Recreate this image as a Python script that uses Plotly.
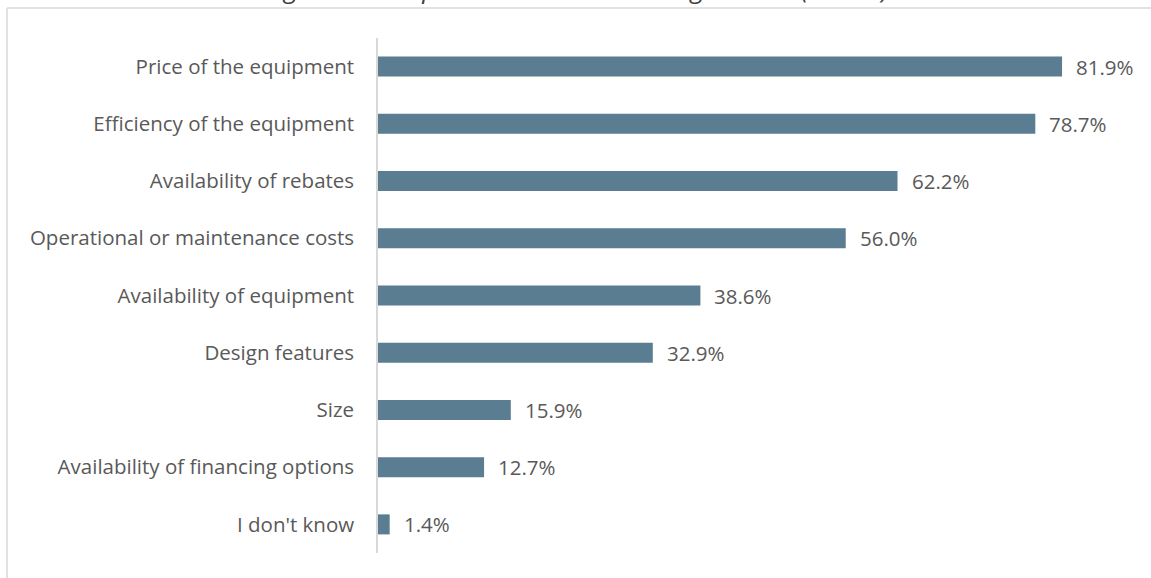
import plotly.graph_objects as go

# Survey results: share of respondents citing each factor
factors = [
    "Price of the equipment",
    "Efficiency of the equipment",
    "Availability of rebates",
    "Operational or maintenance costs",
    "Availability of equipment",
    "Design features",
    "Size",
    "Availability of financing options",
    "I don't know",
]
shares = [81.9, 78.7, 62.2, 56.0, 38.6, 32.9, 15.9, 12.7, 1.4]
title_text = "Figure 5-3: Important Decision-Making Factors (n=438)"

W, H = 1151, 578
ML, MR, MT, MB = 378, 38, 38, 25
pw, ph = W - ML - MR, H - MT - MB

def px_x(p):
    return (p - ML) / pw

def px_y(p):
    return 1 - (p - MT) / ph

bar_color = "#5b7d91"
text_color = "#595959"
font_family = "Open Sans, Liberation Sans, sans-serif"
fs = 20.5

fig = go.Figure(
    go.Bar(
        x=shares,
        y=factors,
        orientation="h",
        marker=dict(color=bar_color, line=dict(width=0)),
        width=0.35,
        hoverinfo="skip",
    )
)

annotations = [
    dict(
        x=v, y=f, xref="x", yref="y", text=f"{v:.1f}%",
        showarrow=False, xanchor="left", xshift=12,
        font=dict(size=fs, color=text_color, family=font_family),
    )
    for f, v in zip(factors, shares)
]
annotations.append(
    dict(
        x=px_x(577), y=px_y(8), xref="paper", yref="paper",
        text=f"<i>{title_text}</i>", showarrow=False,
        xanchor="center", yanchor="bottom",
        font=dict(size=26, color="#404040", family=font_family),
    )
)

frame = "#d9d9d9"
shapes = [
    dict(type="line", xref="paper", yref="paper",
         x0=px_x(7), x1=px_x(W + 5), y0=px_y(8), y1=px_y(8),
         line=dict(color=frame, width=1.5)),
    dict(type="line", xref="paper", yref="paper",
         x0=px_x(7), x1=px_x(7), y0=px_y(8), y1=px_y(H + 5),
         line=dict(color=frame, width=1.5)),
]

fig.update_layout(
    width=W, height=H,
    margin=dict(l=ML, r=MR, t=MT, b=MB),
    paper_bgcolor="white", plot_bgcolor="white",
    showlegend=False,
    annotations=annotations,
    shapes=shapes,
    font=dict(family=font_family, size=fs, color=text_color),
    xaxis=dict(range=[0, 88], showgrid=False, zeroline=False,
               showticklabels=False, showline=False, fixedrange=True),
    yaxis=dict(categoryorder="array", categoryarray=factors[::-1],
               showgrid=False, zeroline=False, showline=True,
               linecolor="#d9d9d9", linewidth=1.5,
               ticks="", ticklabelstandoff=18, fixedrange=True,
               tickfont=dict(size=fs, color=text_color, family=font_family)),
)

fig.write_html("out.html")
